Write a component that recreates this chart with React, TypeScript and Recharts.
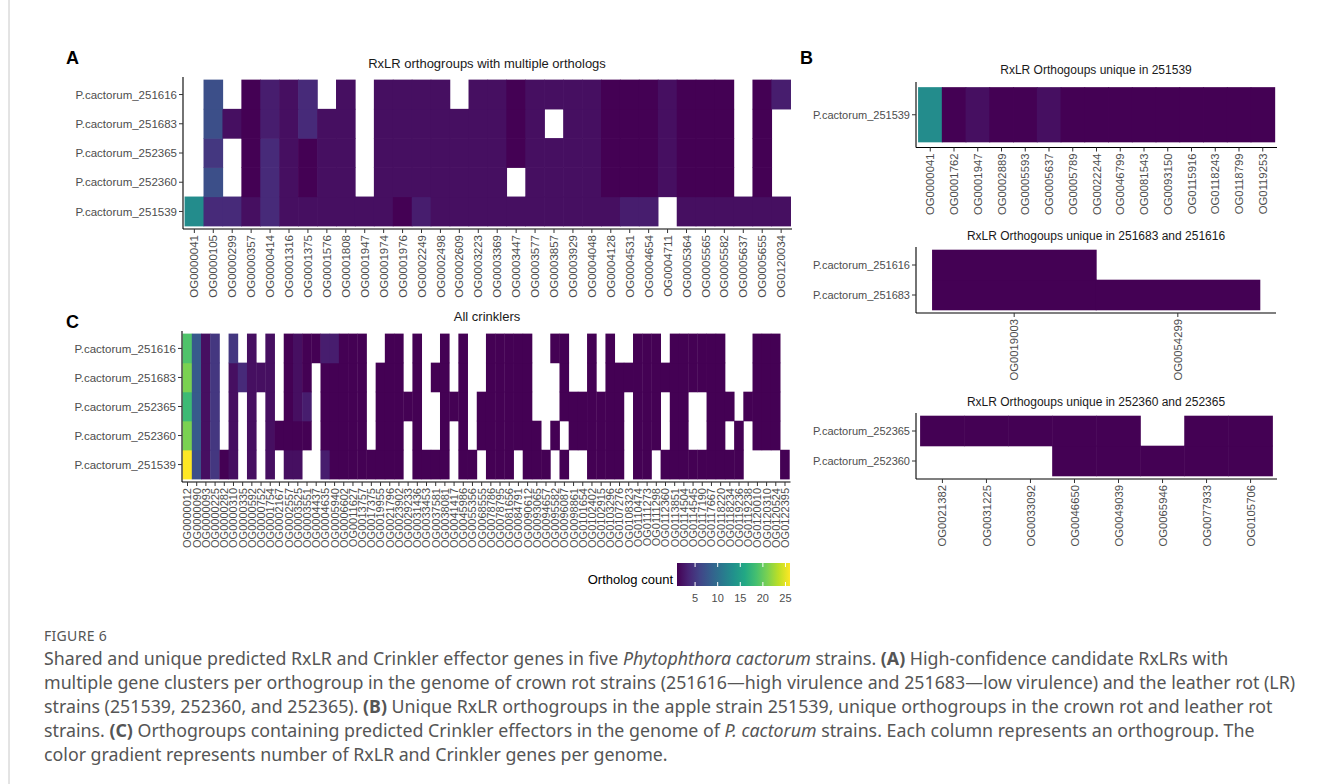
import React from 'react';
import { BarChart, Bar, XAxis, YAxis, Cell } from 'recharts';

// ---- Panel A: RxLR orthogroups with multiple orthologs ----
const A_ORTHOGROUPS = [
  'OG0000041', 'OG0000105', 'OG0000299', 'OG0000357', 'OG0000414', 'OG0001316', 'OG0001375', 'OG0001576',
  'OG0001808', 'OG0001947', 'OG0001974', 'OG0001976', 'OG0002249', 'OG0002498', 'OG0002609', 'OG0003223',
  'OG0003369', 'OG0003447', 'OG0003577', 'OG0003857', 'OG0003929', 'OG0004048', 'OG0004128', 'OG0004531',
  'OG0004654', 'OG0004711', 'OG0005364', 'OG0005565', 'OG0005582', 'OG0005637', 'OG0005655', 'OG0120034',
];
// 0 = no ortholog (blank tile)
const A_251616 = [0, 7, 0, 1, 3, 2, 4, 0, 2, 0, 2, 2, 2, 2, 0, 2, 2, 1, 2, 2, 2, 2, 1, 1, 1, 2, 1, 1, 1, 0, 1, 3];
const A_251683 = [0, 7, 2, 1, 3, 2, 4, 2, 2, 0, 2, 2, 2, 2, 2, 2, 2, 1, 2, 0, 2, 2, 1, 1, 1, 2, 1, 1, 1, 0, 1, 0];
const A_252365 = [0, 5, 0, 1, 4, 2, 1, 2, 2, 0, 2, 2, 2, 2, 2, 2, 2, 1, 2, 2, 2, 2, 1, 1, 1, 2, 1, 1, 1, 0, 1, 0];
const A_252360 = [0, 7, 0, 1, 4, 2, 1, 2, 2, 0, 2, 2, 2, 2, 2, 2, 2, 0, 2, 2, 2, 2, 1, 1, 1, 2, 1, 1, 1, 0, 1, 0];
const A_251539 = [13, 4, 4, 2, 4, 2, 2, 2, 2, 2, 2, 1, 3, 2, 2, 2, 2, 2, 2, 2, 2, 2, 2, 3, 3, 0, 2, 2, 2, 2, 2, 2];

// ---- Panel B ----
const B1_ORTHOGROUPS = [
  'OG0000041', 'OG0001762', 'OG0001947', 'OG0002889', 'OG0005593', 'OG0005637', 'OG0005789', 'OG0022244',
  'OG0046799', 'OG0081543', 'OG0093150', 'OG0115916', 'OG0118243', 'OG0118799', 'OG0119253',
];
const B1_251539 = [13, 1, 2, 1, 1, 2, 1, 1, 1, 1, 1, 1, 1, 1, 1];

const B2_ORTHOGROUPS = ['OG0019003', 'OG0054299'];
const B2_251616 = [1, 0];
const B2_251683 = [1, 1];

const B3_ORTHOGROUPS = ['OG0021382', 'OG0031225', 'OG0033092', 'OG0046650', 'OG0049039', 'OG0065946', 'OG0077933', 'OG0105706'];
const B3_252365 = [1, 1, 1, 1, 1, 0, 1, 1];
const B3_252360 = [0, 0, 0, 1, 1, 1, 1, 1];

// ---- Panel C: All crinklers ----
const C_ORTHOGROUPS = [
  'OG0000012', 'OG0000090', 'OG0000093', 'OG0000225', 'OG0000282', 'OG0000310', 'OG0000335', 'OG0000592',
  'OG0000752', 'OG0001754', 'OG0002167', 'OG0002557', 'OG0003525', 'OG0003551', 'OG0004437', 'OG0004635',
  'OG0005940', 'OG0006602', 'OG0011627', 'OG0013757', 'OG0017375', 'OG0019955', 'OG0021796', 'OG0023902',
  'OG0029233', 'OG0031436', 'OG0033453', 'OG0037581', 'OG0038081', 'OG0041417', 'OG0045986', 'OG0055356',
  'OG0068555', 'OG0078786', 'OG0078795', 'OG0081656', 'OG0084791', 'OG0090612', 'OG0093065', 'OG0094657',
  'OG0095582', 'OG0096087', 'OG0098861', 'OG0101654', 'OG0102402', 'OG0102915', 'OG0103296', 'OG0107276',
  'OG0108323', 'OG0110474', 'OG0111273', 'OG0111298', 'OG0112360', 'OG0113851', 'OG0114504', 'OG0114545',
  'OG0117190', 'OG0117667', 'OG0118220', 'OG0118234', 'OG0119236', 'OG0119238', 'OG0120010', 'OG0120310',
  'OG0120524', 'OG0122395',
];
const C_251616 = [19, 8, 2, 5, 0, 5, 0, 2, 0, 2, 0, 1, 2, 1, 1, 3, 3, 1, 1, 1, 0, 0, 1, 1, 0, 1, 0, 0, 1, 0, 1, 0, 0, 1, 1, 1, 1, 1, 0, 0, 1, 1, 0, 0, 1, 0, 1, 0, 0, 1, 1, 1, 0, 1, 1, 1, 1, 1, 1, 0, 0, 0, 1, 1, 1, 0];
const C_251683 = [21, 8, 2, 5, 0, 2, 4, 2, 2, 2, 0, 1, 2, 1, 0, 1, 1, 1, 1, 1, 0, 1, 1, 1, 0, 1, 0, 1, 1, 0, 1, 0, 0, 1, 1, 1, 1, 1, 0, 0, 0, 1, 0, 0, 1, 0, 1, 1, 1, 1, 1, 1, 1, 1, 1, 1, 1, 1, 1, 0, 0, 0, 1, 1, 1, 0];
const C_252365 = [18, 8, 2, 5, 0, 2, 0, 2, 0, 2, 0, 1, 2, 3, 0, 1, 1, 1, 1, 1, 0, 1, 1, 1, 1, 1, 0, 0, 1, 1, 1, 0, 1, 1, 1, 1, 1, 1, 0, 0, 0, 1, 1, 1, 1, 1, 1, 1, 0, 1, 1, 1, 0, 1, 1, 0, 0, 1, 1, 1, 0, 1, 1, 1, 1, 0];
const C_252360 = [21, 8, 2, 5, 0, 2, 0, 2, 0, 2, 1, 1, 1, 1, 0, 1, 1, 1, 1, 1, 0, 1, 1, 1, 0, 1, 0, 0, 1, 0, 1, 0, 1, 1, 1, 1, 1, 1, 1, 0, 1, 0, 1, 1, 1, 1, 1, 1, 0, 1, 1, 1, 0, 1, 1, 0, 0, 1, 1, 0, 1, 0, 1, 1, 1, 0];
const C_251539 = [26, 7, 2, 5, 1, 2, 0, 2, 0, 2, 0, 2, 2, 0, 0, 3, 1, 1, 1, 1, 1, 1, 1, 1, 0, 1, 1, 1, 1, 0, 1, 1, 0, 1, 1, 1, 0, 1, 1, 1, 0, 1, 0, 0, 1, 1, 1, 1, 0, 1, 1, 0, 1, 1, 1, 1, 1, 1, 1, 1, 1, 0, 0, 0, 0, 1];

const LEGEND_TICKS = [5, 10, 15, 20, 25];
const COUNT_MIN = 1;
const COUNT_MAX = 26;

const VIRIDIS = ['#440154', '#482475', '#414487', '#355f8d', '#2a788e', '#21918c', '#22a884', '#44bf70', '#7ad151', '#bddf26', '#fde725'];

const hexRgb = (h: string) => [1, 3, 5].map((i) => parseInt(h.slice(i, i + 2), 16));

function viridis(v: number) {
  const t = Math.max(0, Math.min(1, (v - COUNT_MIN) / (COUNT_MAX - COUNT_MIN)));
  const p = t * (VIRIDIS.length - 1);
  const i = Math.min(Math.floor(p), VIRIDIS.length - 2);
  const f = p - i;
  const a = hexRgb(VIRIDIS[i]);
  const b = hexRgb(VIRIDIS[i + 1]);
  const c = a.map((x, k) => Math.round(x + (b[k] - x) * f));
  return `rgb(${c[0]},${c[1]},${c[2]})`;
}

const XTick = (props: any) => {
  const { x, y, payload, fs } = props;
  return (
    <text x={x} y={y} transform={`rotate(-90 ${x} ${y})`} textAnchor="end" dy="0.36em" fill="#4d4d4d" fontSize={fs}>
      {payload.value}
    </text>
  );
};

// tile: a hair wider than its band so neighbouring tiles meet without seams
const Tile = (props: any) => {
  const { x, y, width, height, fill } = props;
  if (!fill || fill === 'transparent') return null;
  return <rect x={x - 0.3} y={y - 0.3} width={width + 0.6} height={height + 0.6} fill={fill} />;
};

type Row = { name: string; values: number[] };

interface HeatmapProps {
  x: number; // plot left
  y: number; // plot top
  w: number;
  h: number;
  yW: number;
  xH: number;
  cats: string[];
  rows: Row[]; // top to bottom
  xfs: number;
  yfs: number;
}

const Heatmap: React.FC<HeatmapProps> = ({ x, y, w, h, yW, xH, cats, rows, xfs, yfs }) => {
  const n = cats.length;
  const pad = (w / (n + 0.2)) * 0.1;
  const bottomUp = [...rows].reverse();
  const m = bottomUp.length;
  const data = cats.map((c) => {
    const d: any = { og: c };
    bottomUp.forEach((_, j) => (d['r' + j] = 1));
    return d;
  });
  const ticks = bottomUp.map((_, j) => j + 0.5);
  return (
    <div style={{ position: 'absolute', left: x - yW, top: y }}>
      <BarChart width={yW + w} height={h + xH} data={data} margin={{ top: 0, right: 0, bottom: 0, left: 0 }} barCategoryGap={0} barGap={0}>
        <XAxis
          dataKey="og"
          type="category"
          interval={0}
          padding={{ left: pad, right: pad }}
          height={xH}
          axisLine={{ stroke: '#000', strokeWidth: 1.1 }}
          tickLine={{ stroke: '#333' }}
          tickSize={4}
          tickMargin={2}
          tick={<XTick fs={xfs} />}
        />
        <YAxis
          type="number"
          domain={[-0.1, m + 0.1]}
          allowDataOverflow
          ticks={ticks}
          interval={0}
          tickFormatter={(v: number) => bottomUp[Math.round(v - 0.5)]?.name ?? ''}
          width={yW}
          axisLine={{ stroke: '#000', strokeWidth: 1.1 }}
          tickLine={{ stroke: '#333' }}
          tickSize={4}
          tickMargin={2}
          tick={{ fill: '#4d4d4d', fontSize: yfs }}
        />
        {bottomUp.map((r, j) => (
          <Bar key={r.name} dataKey={'r' + j} stackId="s" isAnimationActive={false} shape={<Tile />}>
            {r.values.map((v, i) => (
              <Cell key={i} fill={v > 0 ? viridis(v) : 'transparent'} />
            ))}
          </Bar>
        ))}
      </BarChart>
    </div>
  );
};

const LEG_X = 677;
const LEG_W = 113;
const LEG_Y = 563;
const LEG_H = 23;

export default function App() {
  const legX = (v: number) => LEG_X + ((v - COUNT_MIN) / (COUNT_MAX - COUNT_MIN)) * LEG_W;
  return (
    <div
      style={{
        position: 'absolute',
        left: 0,
        top: 0,
        width: 1322,
        height: 784,
        background: '#fff',
        overflow: 'hidden',
        fontFamily: '"Liberation Sans", Arial, sans-serif',
      }}
    >
      <svg width={1322} height={784} style={{ position: 'absolute', left: 0, top: 0 }}>
        <line x1={9} y1={0} x2={9} y2={784} stroke="#c8c8c8" strokeWidth={1} />
        <g fontWeight="bold" fontSize={18} fill="#000">
          <text x={66} y={63.5}>A</text>
          <text x={800} y={63.5}>B</text>
          <text x={66} y={328}>C</text>
        </g>
        <g fill="#1a1a1a" textAnchor="middle" dominantBaseline="central">
          <text x={487} y={63} fontSize={13}>RxLR orthogroups with multiple orthologs</text>
          <text x={487} y={316} fontSize={13}>All crinklers</text>
          <text x={1096} y={70} fontSize={12}>RxLR Orthogoups unique in 251539</text>
          <text x={1096} y={236} fontSize={12}>RxLR Orthogoups unique in 251683 and 251616</text>
          <text x={1096} y={402} fontSize={12}>RxLR Orthogoups unique in 252360 and 252365</text>
        </g>
        <defs>
          <linearGradient id="vir" x1="0" x2="1" y1="0" y2="0">
            {VIRIDIS.map((c, i) => (
              <stop key={c} offset={i / (VIRIDIS.length - 1)} stopColor={c} />
            ))}
          </linearGradient>
        </defs>
        <text x={673} y={584} textAnchor="end" fontSize={13} fill="#000">Ortholog count</text>
        <rect x={LEG_X} y={LEG_Y} width={LEG_W} height={LEG_H} fill="url(#vir)" />
        {LEGEND_TICKS.map((t) => (
          <g key={t}>
            <line x1={legX(t)} x2={legX(t)} y1={LEG_Y} y2={LEG_Y + 4} stroke="#fff" strokeWidth={1} />
            <line x1={legX(t)} x2={legX(t)} y1={LEG_Y + LEG_H - 4} y2={LEG_Y + LEG_H} stroke="#fff" strokeWidth={1} />
            <text x={legX(t)} y={598} textAnchor="middle" dominantBaseline="central" fontSize={11} fill="#4d4d4d">
              {t}
            </text>
          </g>
        ))}
        <g fontFamily='"Noto Sans", "Open Sans", sans-serif' fill="#555" dominantBaseline="central">
          <text x={44} y={635} fontSize={14} letterSpacing={0.3}>FIGURE 6</text>
          <g fontSize={17.8}>
            <text x={44} y={658}>
              Shared and unique predicted RxLR and Crinkler effector genes in five <tspan fontStyle="italic">Phytophthora cactorum</tspan> strains. <tspan fontWeight="bold">(A)</tspan> High-confidence candidate RxLRs with
            </text>
            <text x={44} y={682}>
              multiple gene clusters per orthogroup in the genome of crown rot strains (251616—high virulence and 251683—low virulence) and the leather rot (LR)
            </text>
            <text x={44} y={706}>
              strains (251539, 252360, and 252365). <tspan fontWeight="bold">(B)</tspan> Unique RxLR orthogroups in the apple strain 251539, unique orthogroups in the crown rot and leather rot
            </text>
            <text x={44} y={730}>
              strains. <tspan fontWeight="bold">(C)</tspan> Orthogroups containing predicted Crinkler effectors in the genome of <tspan fontStyle="italic">P. cactorum</tspan> strains. Each column represents an orthogroup. The
            </text>
            <text x={44} y={754}>color gradient represents number of RxLR and Crinkler genes per genome.</text>
          </g>
        </g>
      </svg>

      <Heatmap
        x={182.5}
        y={77}
        w={609.5}
        h={152}
        yW={120}
        xH={80}
        cats={A_ORTHOGROUPS}
        rows={[
          { name: 'P.cactorum_251616', values: A_251616 },
          { name: 'P.cactorum_251683', values: A_251683 },
          { name: 'P.cactorum_252365', values: A_252365 },
          { name: 'P.cactorum_252360', values: A_252360 },
          { name: 'P.cactorum_251539', values: A_251539 },
        ]}
        xfs={11.5}
        yfs={11.5}
      />
      <Heatmap
        x={182.4}
        y={330.5}
        w={608.5}
        h={151}
        yW={120}
        xH={70}
        cats={C_ORTHOGROUPS}
        rows={[
          { name: 'P.cactorum_251616', values: C_251616 },
          { name: 'P.cactorum_251683', values: C_251683 },
          { name: 'P.cactorum_252365', values: C_252365 },
          { name: 'P.cactorum_252360', values: C_252360 },
          { name: 'P.cactorum_251539', values: C_251539 },
        ]}
        xfs={11}
        yfs={11.5}
      />
      <Heatmap
        x={916}
        y={81.5}
        w={361}
        h={65.5}
        yW={110}
        xH={75}
        cats={B1_ORTHOGROUPS}
        rows={[{ name: 'P.cactorum_251539', values: B1_251539 }]}
        xfs={11.3}
        yfs={11}
      />
      <Heatmap
        x={916}
        y={247}
        w={360}
        h={66}
        yW={110}
        xH={75}
        cats={B2_ORTHOGROUPS}
        rows={[
          { name: 'P.cactorum_251616', values: B2_251616 },
          { name: 'P.cactorum_251683', values: B2_251683 },
        ]}
        xfs={11.3}
        yfs={11}
      />
      <Heatmap
        x={916}
        y={413}
        w={361}
        h={66}
        yW={110}
        xH={75}
        cats={B3_ORTHOGROUPS}
        rows={[
          { name: 'P.cactorum_252365', values: B3_252365 },
          { name: 'P.cactorum_252360', values: B3_252360 },
        ]}
        xfs={11.3}
        yfs={11}
      />
    </div>
  );
}
